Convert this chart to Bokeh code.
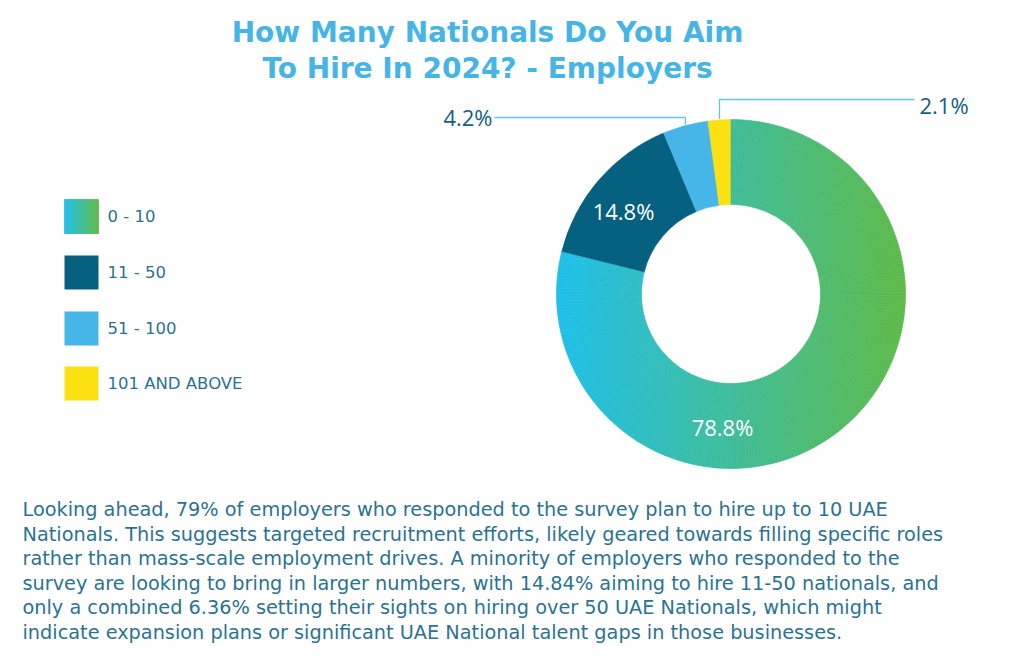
import numpy as np
from bokeh.plotting import figure
from bokeh.models import Range1d
from bokeh.embed import file_html
from bokeh.resources import INLINE
from bokeh.core.properties import value

# ---------------- data ----------------
categories = ["0 - 10", "11 - 50", "51 - 100", "101 AND ABOVE"]
shares = [78.8, 14.8, 4.2, 2.1]
share_labels = ["78.8%", "14.8%", "4.2%", "2.1%"]
title_lines = ["How Many Nationals Do You Aim", "To Hire In 2024? - Employers"]
paragraph_lines = [
    "Looking ahead, 79% of employers who responded to the survey plan to hire up to 10 UAE",
    "Nationals. This suggests targeted recruitment efforts, likely geared towards filling specific roles",
    "rather than mass-scale employment drives. A minority of employers who responded to the",
    "survey are looking to bring in larger numbers, with 14.84% aiming to hire 11-50 nationals, and",
    "only a combined 6.36% setting their sights on hiring over 50 UAE Nationals, which might",
    "indicate expansion plans or significant UAE National talent gaps in those businesses.",
]

# ---------------- style ----------------
slice_colors = [None, "#06607F", "#46B6E9", "#FBE012"]
grad_left = (30, 191, 234)
grad_right = (94, 186, 72)
title_color = "#45B5E8"
text_color = "#2A7391"
label_color = "#13607F"
leader_color = "#5EC6EA"
FONT = "Open Sans"
WIDE = "DejaVu Sans"

W, H = 995, 645


def X(px):
    return px


def Y(py):
    return H - py


def grad(t):
    t = min(max(t, 0.0), 1.0)
    c = [int(round(a + (b - a) * t)) for a, b in zip(grad_left, grad_right)]
    return "#%02x%02x%02x" % tuple(c)


p = figure(width=W, height=H, x_range=Range1d(0, W), y_range=Range1d(0, H),
           output_backend="svg", toolbar_location=None, min_border=0,
           x_axis_location=None, y_axis_location=None)
p.grid.visible = False
p.outline_line_color = None
p.background_fill_color = "white"
p.border_fill_color = "white"

# ---------------- donut ----------------
cx, cy = X(730.5), Y(293.5)
r_out, r_in = 174.5, 89.5

total = sum(shares)
fr = [s / total * 2 * np.pi for s in shares]
bounds = {}
a = np.pi / 2
for i in reversed(range(len(shares))):
    bounds[i] = (a, a + fr[i])
    a += fr[i]

# solid slices
for i in range(1, len(shares)):
    s, e = bounds[i]
    p.annular_wedge(x=cx, y=cy, inner_radius=r_in, outer_radius=r_out,
                    start_angle=s, end_angle=e, fill_color=slice_colors[i],
                    line_color=slice_colors[i], line_width=0.6)

# gradient slice (horizontal gradient)
s0, e0 = bounds[0]
NA, NR = 260, 6
edges_a = np.linspace(s0, e0, NA + 1)
edges_r = np.linspace(r_in, r_out, NR + 1)
xs, ys, ir, orr, sa, ea, cols = [], [], [], [], [], [], []
for k in range(NA):
    am = 0.5 * (edges_a[k] + edges_a[k + 1])
    for j in range(NR):
        rm = 0.5 * (edges_r[j] + edges_r[j + 1])
        xm = cx + rm * np.cos(am)
        t = (xm - (cx - r_out)) / (2 * r_out)
        xs.append(cx); ys.append(cy)
        ir.append(edges_r[j]); orr.append(edges_r[j + 1])
        sa.append(edges_a[k]); ea.append(edges_a[k + 1])
        cols.append(grad(t))
p.annular_wedge(x=xs, y=ys, inner_radius=ir, outer_radius=orr,
                start_angle=sa, end_angle=ea, fill_color=cols,
                line_color=cols, line_width=0.6)

# labels inside
p.text(x=[X(623)], y=[Y(210)], text=[share_labels[1]], text_color="white",
       text_font=value(FONT), text_font_size="22px", text_align="center",
       text_baseline="middle")
p.text(x=[X(722)], y=[Y(426)], text=[share_labels[0]], text_color="white",
       text_font=value(FONT), text_font_size="22px", text_align="center",
       text_baseline="middle")

# outside labels with leader lines
def mid_edge(i):
    s, e = bounds[i]
    m = 0.5 * (s + e)
    return cx + r_out * np.cos(m), cy + r_out * np.sin(m)

px2, py2 = mid_edge(2)
p.line(x=[X(494), px2, px2], y=[Y(117), Y(117), py2 + 1],
       line_color=leader_color, line_width=1.3)
p.text(x=[X(492)], y=[Y(116)], text=[share_labels[2]], text_color=label_color,
       text_font=value(FONT), text_font_size="22px", text_align="right",
       text_baseline="middle")

px3, py3 = mid_edge(3)
p.line(x=[X(914), px3, px3], y=[Y(99), Y(99), py3 + 1],
       line_color=leader_color, line_width=1.3)
p.text(x=[X(919)], y=[Y(104)], text=[share_labels[3]], text_color=label_color,
       text_font=value(FONT), text_font_size="22px", text_align="left",
       text_baseline="middle")

# ---------------- legend ----------------
leg_x0, leg_size = X(64), 34
leg_tops = [199, 255, 311, 366]
for i, cat in enumerate(categories):
    top = Y(leg_tops[i])
    if i == 0:
        n = 34
        w = leg_size / n
        lefts = [leg_x0 + k * w for k in range(n)]
        ccols = [grad((k + 0.5) / n) for k in range(n)]
        p.quad(left=lefts, right=[l + w for l in lefts], top=top,
               bottom=top - leg_size, fill_color=ccols, line_color=ccols,
               line_width=0.8)
    else:
        p.quad(left=leg_x0, right=leg_x0 + leg_size, top=top,
               bottom=top - leg_size, fill_color=slice_colors[i], line_color=None)
    p.text(x=[X(107)], y=[top - leg_size / 2], text=[cat], text_color=text_color,
           text_font=value(WIDE), text_font_size="16.5px", text_align="left",
           text_baseline="middle")

# ---------------- title ----------------
p.text(x=[X(487)] * 2, y=[Y(32), Y(68)], text=title_lines, text_color=title_color,
       text_font=value(WIDE), text_font_style="bold", text_font_size="28px",
       text_align="center", text_baseline="middle")

# ---------------- paragraph ----------------
p.text(x=[X(22)] * len(paragraph_lines),
       y=[Y(509 + 24.6 * k) for k in range(len(paragraph_lines))],
       text=paragraph_lines, text_color=text_color, text_font=value(WIDE),
       text_font_size="19.3px", text_align="left", text_baseline="middle")

open("out.html", "w").write(file_html(p, INLINE))
